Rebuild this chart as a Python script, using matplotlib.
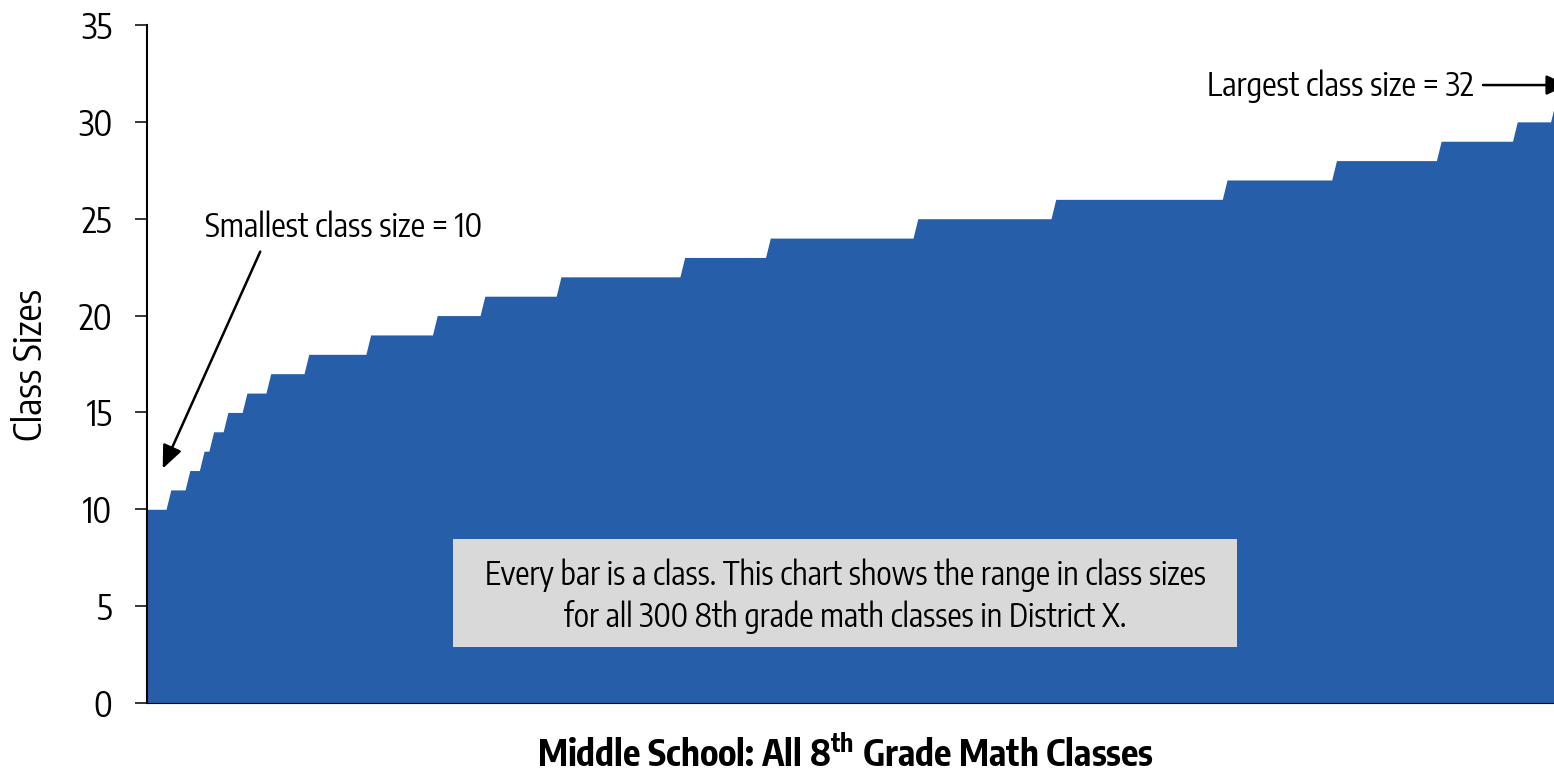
import numpy as np
import matplotlib
matplotlib.use('Agg')
import matplotlib.pyplot as plt
from matplotlib import font_manager
from matplotlib.patches import Rectangle

# prefer a narrow sans if one is installed, otherwise plain Liberation Sans
narrow = [f.name for f in font_manager.fontManager.ttflist
          if ('Narrow' in f.name or 'Condensed' in f.name) and 'Sans' in f.name
          and 'Mono' not in f.name]
if narrow:
    FAMILY, SCALE = sorted(narrow)[0], 1.0
else:
    FAMILY, SCALE = 'Liberation Sans', 0.84

plt.rcParams['font.family'] = [FAMILY, 'DejaVu Sans']
plt.rcParams['mathtext.fontset'] = 'custom'
plt.rcParams['mathtext.rm'] = FAMILY
plt.rcParams['mathtext.bf'] = FAMILY + ':bold'

# class sizes and how many 8th grade math classes have each size
class_sizes = [10, 11, 12, 13, 14, 15, 16, 17, 18, 19, 20, 21,
               22, 23, 24, 25, 26, 27, 28, 29, 30, 31, 32]
class_counts = [5, 4, 3, 2, 3, 4, 5, 8, 13, 14, 10, 16,
                26, 18, 31, 29, 36, 23, 22, 16, 8, 2, 2]
y_ticks = [0, 5, 10, 15, 20, 25, 30, 35]

sizes = np.repeat(class_sizes, class_counts)   # one value per class, sorted
idx = np.arange(len(sizes))

BLUE = '#265EAA'

fig = plt.figure(figsize=(15.54, 7.73), dpi=100)
# plot area runs a little past the right edge of the figure
ax = fig.add_axes([147 / 1554, 70 / 773, 1422.6 / 1554, 678 / 773])

ax.fill_between(idx, 0, sizes, color=BLUE, linewidth=0, zorder=2)

ax.set_xlim(0, len(sizes) - 1)
ax.set_ylim(0, 35)
ax.set_yticks(y_ticks)
ax.set_xticks([])
ax.tick_params(axis='y', direction='out', length=9, width=1.1, pad=16,
               labelsize=25 * (0.88 if SCALE < 1 else 1))
for s in ['top', 'right']:
    ax.spines[s].set_visible(False)
ax.spines['left'].set_linewidth(1.5)
ax.spines['bottom'].set_linewidth(0.8)
ax.spines['left'].set_zorder(3)

fig.text(30 / 1554, 1 - 365 / 773, 'Class Sizes', rotation=90,
         ha='center', va='center', fontsize=27.5 * SCALE)

fig.text(845 / 1554, 1 - 756 / 773,
         r'Middle School: All 8$^{\mathbf{th}}$ Grade Math Classes',
         ha='center', va='center', fontsize=26 * SCALE, fontweight='bold')

# smallest / largest callouts
lo, hi = min(class_sizes), max(class_sizes)
ax.text(12.2, 24.55, 'Smallest class size = %d' % lo, ha='left', va='center',
        fontsize=23.3 * SCALE)
ax.annotate('', xy=(3.3, 12.1), xytext=(23.8, 23.3),
            arrowprops=dict(arrowstyle='-|>,head_length=1.4,head_width=0.6',
                            color='black', lw=1.8, shrinkA=0, shrinkB=0))

ax.text(278.8, 31.85, 'Largest class size = %d' % hi, ha='right', va='center',
        fontsize=23.3 * SCALE)
ax.annotate('', xy=(298.6, 31.9), xytext=(280.8, 31.9),
            arrowprops=dict(arrowstyle='-|>,head_length=1.3,head_width=0.6',
                            color='black', lw=1.8, shrinkA=0, shrinkB=0),
            annotation_clip=False)

# note box in the middle of the area
ax.add_patch(Rectangle((64.3, 2.89), 164.8, 5.58, facecolor='#D9D9D9',
                       edgecolor='none', zorder=3))
ax.text(146.7, 5.5,
        'Every bar is a class. This chart shows the range in class sizes\n'
        'for all %d 8th grade math classes in District X.' % len(sizes),
        ha='center', va='center', fontsize=22.9 * SCALE, linespacing=1.3,
        zorder=4)

fig.savefig('out.png', dpi=100)
